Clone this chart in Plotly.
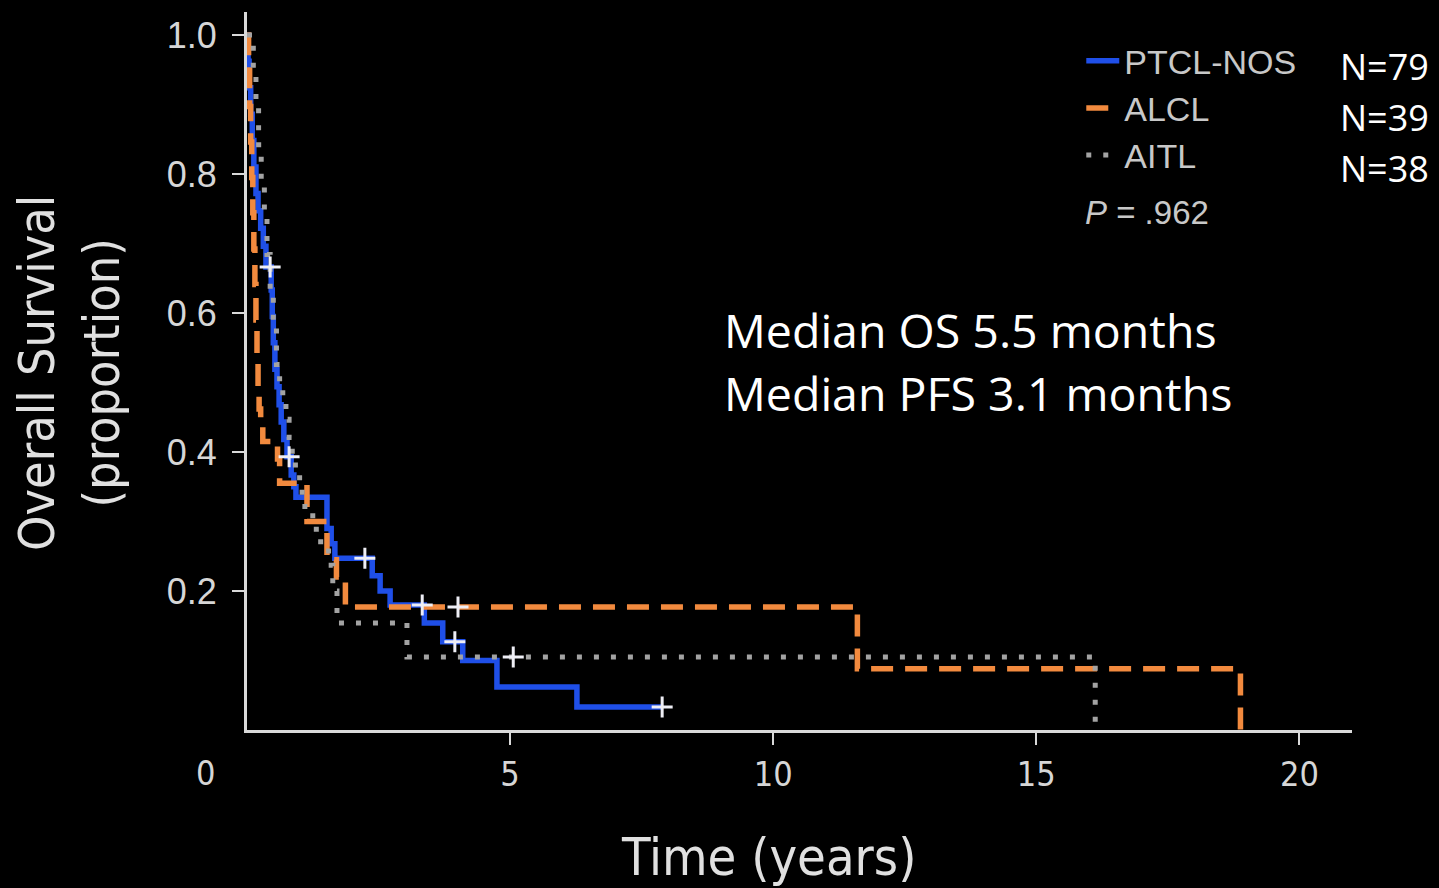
import plotly.graph_objects as go

# Kaplan-Meier step data (time in years, survival proportion after each step)
ptcl_t = [0, 0.02, 0.04, 0.07, 0.10, 0.13, 0.17, 0.21, 0.26, 0.31, 0.36, 0.46, 0.48, 0.50,
          0.53, 0.57, 0.61, 0.65, 0.70, 0.76, 0.84, 0.89, 0.93, 1.52, 1.60, 1.67, 2.38,
          2.53, 2.72, 3.37, 3.72, 4.10, 4.75, 6.27, 7.89]
ptcl_s = [1.0, 0.962, 0.924, 0.886, 0.848, 0.810, 0.772, 0.747, 0.722, 0.696, 0.666, 0.633,
          0.595, 0.557, 0.519, 0.494, 0.468, 0.443, 0.418, 0.393, 0.367, 0.350, 0.335, 0.290,
          0.268, 0.247, 0.222, 0.200, 0.180, 0.154, 0.127, 0.100, 0.062, 0.033, 0.033]

alcl_t = [0, 0.03, 0.05, 0.07, 0.09, 0.11, 0.13, 0.15, 0.17, 0.19, 0.21, 0.23, 0.26, 0.30,
          0.58, 0.62, 1.14, 1.52, 1.70, 1.87, 11.60, 18.88]
alcl_s = [1.0, 0.949, 0.897, 0.846, 0.795, 0.744, 0.692, 0.641, 0.590, 0.538, 0.487, 0.462,
          0.436, 0.415, 0.390, 0.355, 0.300, 0.245, 0.220, 0.177, 0.088, 0.0]

aitl_t = [0, 0.12, 0.17, 0.22, 0.27, 0.33, 0.38, 0.44, 0.50, 0.56, 0.62, 0.68, 0.74, 0.80,
          0.86, 0.92, 1.00, 1.10, 1.25, 1.40, 1.55, 1.63, 1.71, 3.04, 16.12]
aitl_s = [1.0, 0.947, 0.895, 0.842, 0.789, 0.737, 0.684, 0.632, 0.579, 0.526, 0.500, 0.474,
          0.447, 0.421, 0.395, 0.368, 0.342, 0.316, 0.289, 0.263, 0.237, 0.200, 0.154, 0.105,
          0.0]

# Censored observations
cens_t = [0.44, 0.80, 2.24, 3.33, 3.95, 7.89, 4.01, 5.06]
cens_s = [0.666, 0.393, 0.247, 0.180, 0.127, 0.033, 0.177, 0.105]

x_ticks = [5, 10, 15, 20]
y_ticks = [0.2, 0.4, 0.6, 0.8, 1.0]
y_tick_text = ["0.2", "0.4", "0.6", "0.8", "1.0"]

series_names = ["PTCL-NOS", "ALCL", "AITL"]
series_n = ["N=79", "N=39", "N=38"]

BLUE = "#1f4fe8"
ORANGE = "#f28a3e"
GRAY = "#a3a3a3"
AXIS = "#d9d9d9"
NARROW = "Liberation Sans Narrow, DejaVu Sans Condensed, Arial Narrow, sans-serif"
ARIAL = "Liberation Sans, Arial, sans-serif"
BODY = "Open Sans, Noto Sans, sans-serif"

fig = go.Figure()

fig.add_trace(go.Scatter(x=ptcl_t, y=ptcl_s, mode="lines", line_shape="hv",
                         name=series_names[0], legendgroup="a",
                         line=dict(color=BLUE, width=5.5)))
fig.add_trace(go.Scatter(x=alcl_t, y=alcl_s, mode="lines", line_shape="hv",
                         name=series_names[1], legendgroup="b",
                         line=dict(color=ORANGE, width=5.5, dash="22px,12px")))
fig.add_trace(go.Scatter(x=aitl_t, y=aitl_s, mode="lines", line_shape="hv",
                         name=series_names[2], legendgroup="c",
                         line=dict(color=GRAY, width=5, dash="5px,12px")))
fig.add_trace(go.Scatter(x=cens_t, y=cens_s, mode="markers", showlegend=False,
                         marker=dict(symbol="cross-thin", size=15,
                                     line=dict(color="#eeeef5", width=3))))

fig.update_layout(
    width=1439, height=888,
    margin=dict(l=247, r=87, t=12, b=158),
    paper_bgcolor="#000000", plot_bgcolor="#000000",
    showlegend=True,
    legend=dict(x=0.755, y=0.972, xanchor="left", yanchor="top",
                bgcolor="rgba(0,0,0,0)", font=dict(family=ARIAL, size=34, color="#c8c8c8"),
                itemwidth=33, tracegroupgap=0, traceorder="grouped"),
    xaxis=dict(range=[0, 21.0], tickvals=x_ticks, showgrid=False, zeroline=False,
               showline=True, linecolor=AXIS, linewidth=3,
               ticks="outside", ticklen=12, tickwidth=2, tickcolor=AXIS,
               tickfont=dict(family=NARROW, size=34, color="#d6d6d6")),
    yaxis=dict(range=[0, 1.033], tickvals=y_ticks, ticktext=y_tick_text,
               showgrid=False, zeroline=False,
               showline=True, linecolor=AXIS, linewidth=3,
               ticks="outside", ticklen=12, tickwidth=2, tickcolor=AXIS,
               ticklabelstandoff=8,
               tickfont=dict(family=ARIAL, size=36, color="#d6d6d6")),
)

def px_x(p):
    return (p - 247) / 1105.0

def px_y(p):
    return (730 - p) / 718.0

annotations = [
    dict(text="0", x=px_x(205), y=px_y(773), font=dict(family=NARROW, size=34, color="#d6d6d6")),
    dict(text="Overall Survival<br>(proportion)", x=px_x(70), y=px_y(373), textangle=-90,
         font=dict(family=NARROW, size=50, color="#e0e0e0")),
    dict(text="Time (years)", x=px_x(768), y=px_y(857),
         font=dict(family=NARROW, size=52, color="#e0e0e0")),
    dict(text="<i>P</i> = .962", x=px_x(1083), y=px_y(212), xanchor="left",
         font=dict(family=ARIAL, size=33, color="#c8c8c8")),
    dict(text="Median OS 5.5 months", x=px_x(722), y=px_y(330), xanchor="left",
         font=dict(family=BODY, size=46.5, color="#ffffff")),
    dict(text="Median PFS 3.1 months", x=px_x(722), y=px_y(393), xanchor="left",
         font=dict(family=BODY, size=46.5, color="#ffffff")),
]
for label, yc in zip(series_n, [67, 117, 168]):
    annotations.append(dict(text=label, x=px_x(1338), y=px_y(yc), xanchor="left",
                            font=dict(family=BODY, size=36, color="#ffffff")))

for a in annotations:
    a.setdefault("xanchor", "center")
    a.update(xref="paper", yref="paper", showarrow=False, yanchor="middle")
fig.update_layout(annotations=annotations)

fig.write_html("out.html")
